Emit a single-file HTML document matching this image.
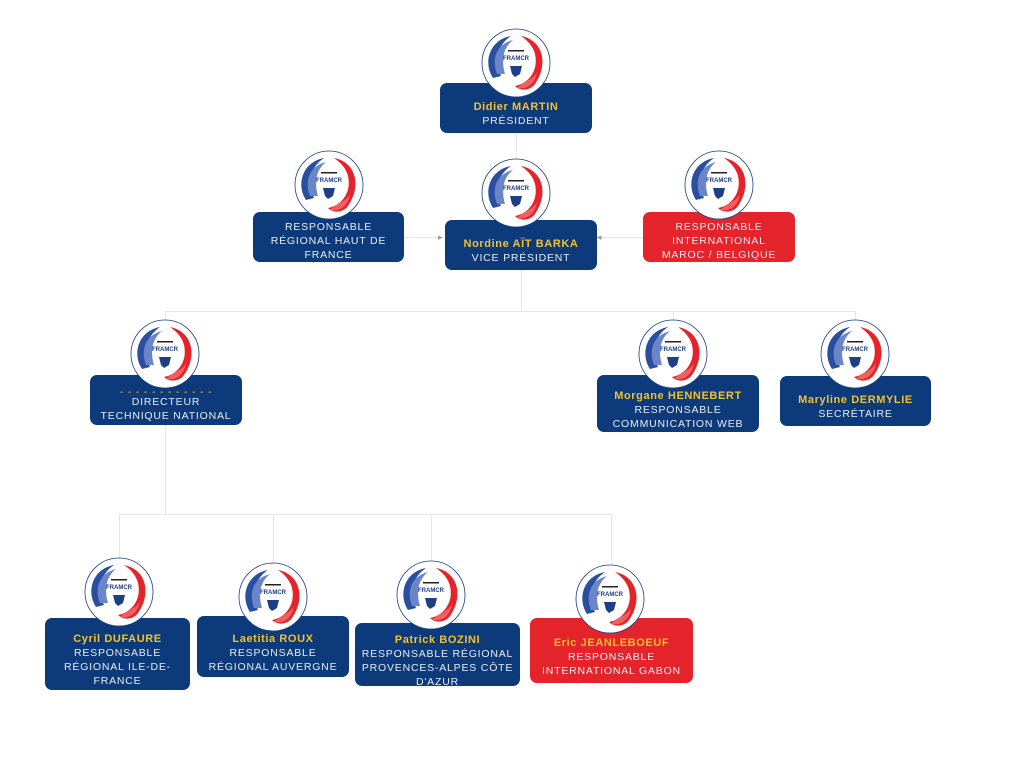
<!DOCTYPE html>
<html><head><meta charset="utf-8"><style>
body{margin:0;width:1024px;height:768px;background:#fff;position:relative;overflow:hidden;font-family:"Liberation Sans",sans-serif}
.b{position:absolute;background:#0c3a7b;border-radius:7px;color:#e8ecf4;text-align:center;font-size:10.5px;letter-spacing:.8px;line-height:14px;display:flex;flex-direction:column;justify-content:center;box-sizing:border-box;padding:12px 4px 0}
.r{background:#e4232a}
.n{color:#f2c12e;font-weight:bold;letter-spacing:.6px;font-size:11px}
.l{position:absolute;background:#e6e6e6}
svg.lg{position:absolute;width:70px;height:70px}
</style></head><body>
<svg width="0" height="0" style="position:absolute"><defs><symbol id="lg" viewBox="0 0 70 70">
<circle cx="35" cy="35" r="34" fill="#fff" stroke="#1c3f86" stroke-width="0.8"/>
<path d="M12 50 C2 35 8 12 30 8 C18 16 12 30 20 48 Z" fill="#2a4fa0"/>
<path d="M16 46 C10 30 16 16 32 12 C22 20 20 32 24 46 Z" fill="#6a86c8"/>
<path d="M40 8 C62 12 68 36 54 56 C50 62 40 64 34 58 C46 56 58 44 54 26 C52 18 46 12 40 8 Z" fill="#e4232a"/>
<path d="M36 60 C44 52 52 52 56 44 C54 56 46 62 36 60 Z" fill="#f06060"/>
<rect x="27" y="22" width="16" height="1.5" fill="#222"/>
<text x="35" y="32" font-size="6" font-weight="bold" text-anchor="middle" fill="#1c3f86" font-family="Liberation Sans">FRAMCR</text>
<path d="M29 38 L41 38 L39 46 L34 49 L31 46 Z" fill="#1c3f86"/>
</symbol></defs></svg>

<div class="l" style="left:516px;top:133px;width:1px;height:28px"></div>
<div class="l" style="left:404px;top:237px;width:41px;height:1px"></div>
<div class="l" style="left:597px;top:237px;width:46px;height:1px"></div>
<div class="l" style="left:521px;top:270px;width:1px;height:41px"></div>
<div class="l" style="left:165px;top:311px;width:691px;height:1px"></div>
<div class="l" style="left:165px;top:311px;width:1px;height:12px"></div>
<div class="l" style="left:673px;top:311px;width:1px;height:12px"></div>
<div class="l" style="left:855px;top:311px;width:1px;height:12px"></div>
<div class="l" style="left:165px;top:425px;width:1px;height:89px"></div>
<div class="l" style="left:119px;top:514px;width:493px;height:1px"></div>
<div class="l" style="left:119px;top:514px;width:1px;height:45px"></div>
<div class="l" style="left:273px;top:514px;width:1px;height:50px"></div>
<div class="l" style="left:431px;top:514px;width:1px;height:48px"></div>
<div class="l" style="left:611px;top:514px;width:1px;height:50px"></div>
<div style="position:absolute;left:438px;top:232px;font-size:9px;color:#999">▸</div>
<div style="position:absolute;left:597px;top:232px;font-size:9px;color:#999">◂</div>

<div class="b" style="left:440px;top:83px;width:152px;height:50px"><span class="n">Didier MARTIN</span>PRÉSIDENT</div>
<div class="b" style="left:445px;top:220px;width:152px;height:50px"><span class="n">Nordine AÏT BARKA</span>VICE PRÉSIDENT</div>
<div class="b" style="left:253px;top:212px;width:151px;height:50px;padding-top:8px">RESPONSABLE<br>RÉGIONAL HAUT DE<br>FRANCE</div>
<div class="b r" style="left:643px;top:212px;width:152px;height:50px;padding-top:8px">RESPONSABLE<br>INTERNATIONAL<br>MAROC / BELGIQUE</div>
<div class="b" style="left:90px;top:375px;width:152px;height:50px"><span style="color:#f2c12e;line-height:6px">- - - - - - - - - - - -</span>DIRECTEUR<br>TECHNIQUE NATIONAL</div>
<div class="b" style="left:597px;top:375px;width:162px;height:57px"><span class="n">Morgane HENNEBERT</span>RESPONSABLE<br>COMMUNICATION WEB</div>
<div class="b" style="left:780px;top:376px;width:151px;height:50px"><span class="n">Maryline DERMYLIE</span>SECRÉTAIRE</div>
<div class="b" style="left:45px;top:618px;width:145px;height:72px"><span class="n">Cyril DUFAURE</span>RESPONSABLE<br>RÉGIONAL ILE-DE-<br>FRANCE</div>
<div class="b" style="left:197px;top:616px;width:152px;height:61px"><span class="n">Laetitia ROUX</span>RESPONSABLE<br>RÉGIONAL AUVERGNE</div>
<div class="b" style="left:355px;top:623px;width:165px;height:63px"><span class="n">Patrick BOZINI</span>RESPONSABLE RÉGIONAL<br>PROVENCES-ALPES CÔTE<br>D'AZUR</div>
<div class="b r" style="left:530px;top:618px;width:163px;height:65px"><span class="n">Eric JEANLEBOEUF</span>RESPONSABLE<br>INTERNATIONAL GABON</div>

<svg class="lg" style="left:481px;top:28px"><use href="#lg"/></svg>
<svg class="lg" style="left:481px;top:158px"><use href="#lg"/></svg>
<svg class="lg" style="left:294px;top:150px"><use href="#lg"/></svg>
<svg class="lg" style="left:684px;top:150px"><use href="#lg"/></svg>
<svg class="lg" style="left:130px;top:319px"><use href="#lg"/></svg>
<svg class="lg" style="left:638px;top:319px"><use href="#lg"/></svg>
<svg class="lg" style="left:820px;top:319px"><use href="#lg"/></svg>
<svg class="lg" style="left:84px;top:557px"><use href="#lg"/></svg>
<svg class="lg" style="left:238px;top:562px"><use href="#lg"/></svg>
<svg class="lg" style="left:396px;top:560px"><use href="#lg"/></svg>
<svg class="lg" style="left:575px;top:564px"><use href="#lg"/></svg>
</body></html>
